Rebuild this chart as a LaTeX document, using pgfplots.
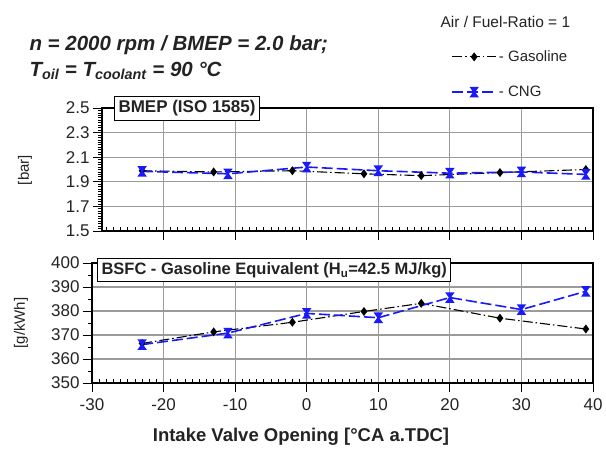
\documentclass[border=0pt]{standalone}
\usepackage{pgfplots}
\pgfplotsset{compat=1.18}
\usepackage{fontspec}
\setmainfont{Liberation Sans}
\definecolor{cngblue}{RGB}{25,25,250}
\definecolor{txt}{RGB}{35,35,35}
\definecolor{gridgray}{RGB}{155,155,155}

% vertical bow-tie mark used for CNG
\pgfdeclareplotmark{hourglass}{%
  \pgfpathmoveto{\pgfqpoint{-\pgfplotmarksize}{1.4\pgfplotmarksize}}%
  \pgfpathlineto{\pgfqpoint{\pgfplotmarksize}{1.4\pgfplotmarksize}}%
  \pgfpathlineto{\pgfqpoint{0pt}{0pt}}%
  \pgfpathclose
  \pgfpathmoveto{\pgfqpoint{-\pgfplotmarksize}{-1.4\pgfplotmarksize}}%
  \pgfpathlineto{\pgfqpoint{\pgfplotmarksize}{-1.4\pgfplotmarksize}}%
  \pgfpathlineto{\pgfqpoint{0pt}{0pt}}%
  \pgfpathclose
  \pgfusepathqfillstroke}

\pgfplotstableread{
x    y
-23  1.99
-13  1.98
-2   1.99
8    1.965
16   1.95
27   1.975
39   2.00
}\bmepgas
\pgfplotstableread{
x    y
-23  1.985
-11  1.965
0    2.02
10   1.99
20   1.97
30   1.98
39   1.96
}\bmepcng
\pgfplotstableread{
x    y
-23  366.5
-13  371.3
-2   375.3
8    379.8
16   383.2
27   377.0
39   372.5
}\bsfcgas
\pgfplotstableread{
x    y
-23  366.0
-11  370.8
0    379.0
10   377.2
20   385.6
30   380.6
39   388.2
}\bsfccng

\pgfplotsset{
  panel/.style={
    scale only axis, anchor=south west,
    xmax=40,
    xtick={-30,-20,...,40}, minor x tick num=9,
    xtick pos=bottom, ytick pos=left,
    tick align=outside,
    major tick length=9pt, minor tick length=4pt,
    minor x tick style={yshift=4pt},
    tick style={black, line width=0.8pt},
    grid=major,
    major grid style={gridgray, line width=1.1pt},
    axis line style={black, line width=1.1pt},
    ticklabel style={font=\fontsize{17}{17}\selectfont, text=txt},
    /pgf/number format/assume math mode=true,
    clip=false,
  },
  gas/.style={black, line width=1.1pt, dash pattern=on 10pt off 3pt on 1.5pt off 3pt,
    mark=diamond*, mark size=3.6pt, mark options={solid, fill=black}},
  cng/.style={cngblue, line width=1.6pt, dash pattern=on 11pt off 4pt,
    mark=hourglass, mark size=3.2pt, mark options={solid, fill=cngblue}},
}

\begin{document}
\begin{tikzpicture}
\useasboundingbox (0pt,0pt) rectangle (606pt,453pt);

% upper panel: BMEP
\begin{axis}[panel,
  at={(102pt,222pt)}, width=491pt, height=123pt,
  xmin=-28.6, ymin=1.5, ymax=2.5,
  ytick={1.5,1.7,...,2.5}, minor y tick num=9,
  xticklabels={},
  yticklabel style={/pgf/number format/.cd, fixed, fixed zerofill, precision=1},
  legend style={at={(axis description cs:0.705,1.50)}, anchor=north west,
    draw=none, fill=none, row sep=19pt,
    font=\fontsize{15}{15}\selectfont\color{txt}},
  legend cell align=left,
  legend image code/.code={\draw[mark repeat=2,mark phase=2,#1]
    plot coordinates {(0pt,0pt) (22pt,0pt) (44pt,0pt)};},
]
\addplot[gas] table {\bmepgas};
\addlegendentry{- Gasoline}
\addplot[cng] table {\bmepcng};
\addlegendentry{- CNG}
\end{axis}

% lower panel: BSFC
\begin{axis}[panel,
  at={(92pt,70pt)}, width=501pt, height=120pt,
  xmin=-30, ymin=350, ymax=400,
  ytick={350,360,...,400}, minor y tick num=1,
  xticklabel style={yshift=-3pt},
]
\addplot[gas] table {\bsfcgas};
\addplot[cng] table {\bsfccng};
\end{axis}

% boxes inside the panels
\node[draw=black, fill=white, line width=1pt, anchor=north west, inner sep=4pt,
  font=\fontsize{17}{17}\selectfont\bfseries, text=txt] at (114pt,357pt) {BMEP (ISO 1585)};
\node[draw=black, fill=white, line width=1pt, anchor=north west, inner sep=4pt,
  font=\fontsize{16.5}{16.5}\selectfont\bfseries, text=txt] at (97pt,195pt)
  {BSFC - Gasoline Equivalent (H\textsubscript{u}=42.5 MJ/kg)};

% headings and axis labels
\node[anchor=west, font=\fontsize{20.5}{20.5}\selectfont\bfseries\itshape, text=txt]
  at (26pt,408pt) {n = 2000 rpm / BMEP = 2.0 bar;};
\node[anchor=west, font=\fontsize{20.5}{20.5}\selectfont\bfseries\itshape, text=txt]
  at (26pt,382pt) {T\textsubscript{oil} = T\textsubscript{coolant} = 90 °C};
\node[anchor=west, font=\fontsize{15.5}{15.5}\selectfont, text=txt]
  at (437pt,431pt) {Air / Fuel-Ratio = 1};
\node[rotate=90, font=\fontsize{15}{15}\selectfont, text=txt] at (25pt,283pt) {[bar]};
\node[rotate=90, font=\fontsize{15}{15}\selectfont, text=txt] at (21pt,130pt) {[g/kWh]};
\node[font=\fontsize{18.5}{18.5}\selectfont\bfseries, text=txt] at (301pt,16pt)
  {Intake Valve Opening [°CA a.TDC]};
\end{tikzpicture}
\end{document}
